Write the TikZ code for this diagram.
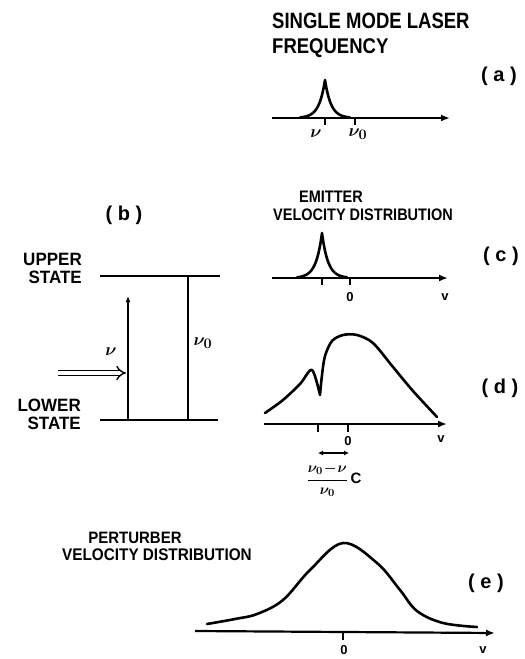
\documentclass[tikz,border=0pt]{standalone}
\usepackage{fontspec}
\usepackage{graphicx}
\usepackage{amsmath}
\setmainfont{Liberation Sans}
\usetikzlibrary{arrows.meta}

\newcommand{\tallbf}[2]{\scalebox{1}[#1]{\bfseries #2}}

\tikzset{
  axisline/.style={line width=2.2pt, -{Latex[length=9pt,width=7pt]}},
  curveline/.style={line width=2.6pt, line join=round, line cap=round},
  levelline/.style={line width=2.6pt},
  tickline/.style={line width=1.8pt},
  lbl/.style={inner sep=0pt, align=center},
  tagtxt/.style={inner sep=0pt, font=\bfseries\fontsize{20}{22}\selectfont},
  valtxt/.style={inner sep=0pt, font=\bfseries\fontsize{13}{15}\selectfont},
  symtxt/.style={inner sep=0pt, font=\fontsize{19}{21}\selectfont\boldmath},
}

\begin{document}
\begin{tikzpicture}[x=1pt, y=-1pt]
    \useasboundingbox (0,0) rectangle (525,659);

    % (a) laser line
    \node[lbl, anchor=north west] (titleA) at (272,13)
        {\fontsize{18.5}{20}\selectfont\tallbf{1.2}{SINGLE MODE LASER}};
    \node[lbl, anchor=north west] (titleA2) at (272,38)
        {\fontsize{18.5}{20}\selectfont\tallbf{1.15}{FREQUENCY}};
    \node[tagtxt] (tagA) at (499,76) {(\;a\;)};
    \coordinate (axAl) at (272,118);
    \coordinate (axAr) at (450,118);
    \draw[axisline] (axAl) -- (axAr);
    \draw[curveline] plot[domain=300:350, samples=101] (\x, {118-38*exp(-abs(\x-325)/6)});
    \draw[tickline] (325,118) -- (325,125);
    \draw[tickline] (355,118) -- (355,125);
    \node[symtxt] (nuA) at (316,134) {$\nu$};
    \node[symtxt] (nu0A) at (358,134) {$\nu_0$};

    % (b) levels
    \node[tagtxt] (tagB) at (124,215) {(\;b\;)};
    \node[lbl, align=right, anchor=north east, font=\fontsize{17}{19}\selectfont] (upper) at (82,253)
        {\tallbf{1.05}{UPPER}\\[-1pt]\tallbf{1.05}{STATE}};
    \node[lbl, align=right, anchor=north east, font=\fontsize{17}{19}\selectfont] (lower) at (81,399)
        {\tallbf{1.05}{LOWER}\\[-1pt]\tallbf{1.05}{STATE}};
    \coordinate (upL) at (100,276);
    \coordinate (upR) at (220,276);
    \coordinate (loL) at (100,420);
    \coordinate (loR) at (218,420);
    \draw[levelline] (upL) -- (upR);
    \draw[levelline] (loL) -- (loR);
    \coordinate (nuBot) at (128,420);
    \coordinate (nuTop) at (128,296);
    \draw[levelline, -{Latex[length=6pt,width=5pt]}] (nuBot) -- (nuTop);
    \coordinate (resTop) at (188,276);
    \coordinate (resBot) at (188,420);
    \draw[levelline] (resTop) -- (resBot);
    \node[symtxt] (nuB) at (111,352) {$\nu$};
    \node[symtxt] (nu0B) at (203,343) {$\nu_0$};
    \coordinate (laserIn) at (58,373);
    \coordinate (laserHit) at (126,373);
    \draw[line width=1.4pt, double distance=3.5pt, -{Implies}] (laserIn) -- (laserHit);

    % (c) emitters
    \node[lbl] (emitter) at (331,197)
        {\fontsize{14.5}{16}\selectfont\tallbf{1.15}{EMITTER}};
    \node[lbl, anchor=west] (velC) at (273,215)
        {\fontsize{14.5}{16}\selectfont\tallbf{1.15}{VELOCITY DISTRIBUTION}};
    \node[tagtxt] (tagC) at (501,256) {(\;c\;)};
    \coordinate (axCl) at (272,278);
    \coordinate (axCr) at (448,278);
    \draw[axisline] (axCl) -- (axCr);
    \draw[curveline] plot[domain=297:347, samples=101] (\x, {278-45*exp(-abs(\x-322)/6)});
    \draw[tickline] (322,278) -- (322,285);
    \draw[tickline] (350,278) -- (350,285);
    \node[valtxt] (zeroC) at (350,297) {0};
    \node[valtxt] (velSymC) at (445,297) {v};

    % (d) hole burnt in emitter distribution
    \node[tagtxt] (tagD) at (500,388) {(\;d\;)};
    \coordinate (axDl) at (264,424);
    \coordinate (axDr) at (447,424);
    \draw[axisline] (axDl) -- (axDr);
    \draw[curveline]
        plot[smooth, tension=0.5] coordinates {(265,413) (283,400) (300,384) (312,370) (320,395)}
        -- plot[smooth, tension=0.5] coordinates {(320,395) (322,375) (325,356) (332,341) (343,335)
            (357,335) (373,343) (393,367) (413,391) (437,417)};
    \draw[tickline] (318,424) -- (318,432);
    \draw[tickline] (348,424) -- (348,432);
    \node[valtxt] (zeroD) at (348,441) {0};
    \node[valtxt] (velSymD) at (441,439) {v};
    \coordinate (shiftL) at (318,453);
    \coordinate (shiftR) at (349,453);
    \draw[line width=1.6pt, {Latex[length=5pt,width=5pt]}-{Latex[length=5pt,width=5pt]}] (shiftL) -- (shiftR);
    \node[inner sep=0pt, font=\fontsize{15}{17}\selectfont\boldmath] (shift) at (334,480)
        {$\dfrac{\nu_0\!-\!\nu}{\nu_0}$\,\textbf{C}};

    % (e) perturbers
    \node[lbl] (perturber) at (135,538)
        {\fontsize{15}{17}\selectfont\tallbf{1.1}{PERTURBER}};
    \node[lbl, anchor=west] (velE) at (62,555)
        {\fontsize{15.3}{17}\selectfont\tallbf{1.1}{VELOCITY DISTRIBUTION}};
    \node[tagtxt] (tagE) at (486,583) {(\;e\;)};
    \coordinate (axEl) at (195,631);
    \coordinate (axEr) at (495,633);
    \draw[axisline] (axEl) -- (axEr);
    \draw[curveline] plot[smooth, tension=0.6] coordinates {(207,624) (235,619) (257,614) (283,600)
        (310,570) (343,543) (377,563) (400,590) (417,611) (443,623) (477,627)};
    \draw[tickline] (343,632) -- (343,640);
    \node[valtxt] (zeroE) at (344,650) {0};
    \node[valtxt] (velSymE) at (483,650) {v};
\end{tikzpicture}
\end{document}
